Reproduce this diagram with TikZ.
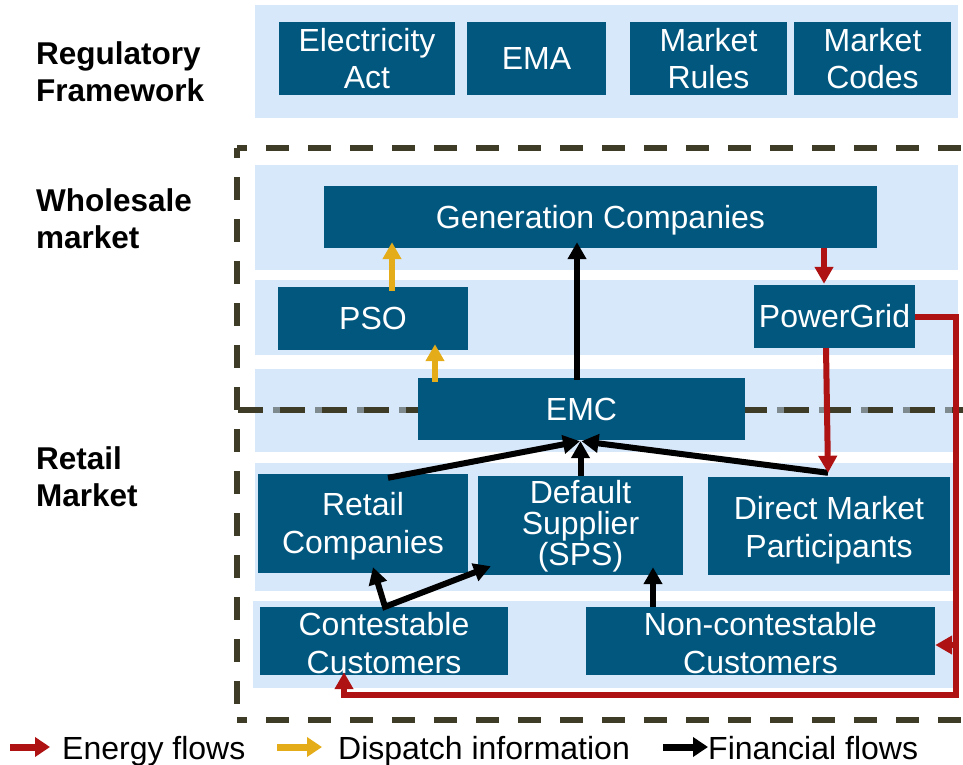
\documentclass[tikz,border=0pt]{standalone}
\usepackage{fontspec}
\setmainfont{Liberation Sans}
\usetikzlibrary{arrows.meta}
\definecolor{boxblue}{HTML}{02577F}
\definecolor{bandblue}{HTML}{D7E8FB}
\definecolor{flowred}{HTML}{AE1212}
\definecolor{flowyellow}{HTML}{E3AC18}
\definecolor{dashdark}{HTML}{3E3C27}
\definecolor{dashgrey}{HTML}{7F8A8E}
\begin{document}
\begin{tikzpicture}[x=1pt,y=-1pt,
  box/.style={fill=boxblue, text=white, align=center, inner sep=0pt,
    font=\fontsize{32}{37}\selectfont},
  boxtext/.style={text=white, align=center, inner sep=0pt,
    font=\fontsize{32}{38}\selectfont},
  lbl/.style={anchor=west, align=left, inner sep=0pt,
    font=\bfseries\fontsize{31.5}{37}\selectfont},
  legtext/.style={anchor=base west, inner sep=0pt, font=\fontsize{32}{37}\selectfont},
  bigdash/.style={dashdark, line width=6pt, dash pattern=on 23pt off 19pt, dash phase=13pt},
  tipA/.style={-{Triangle[length=17pt,width=18pt]}},
  rarr/.style={tipA, draw=flowred, line width=6pt},
  yarr/.style={tipA, draw=flowyellow, line width=6pt},
  barr/.style={tipA, draw=black, line width=6pt},
  legarr/.style={-{Triangle[length=15pt,width=19pt]}, line width=7pt}
]
\useasboundingbox (0,0) rectangle (963,765);

% bands
\fill[bandblue] (255,5) rectangle (958,118);
\fill[bandblue] (255,165) rectangle (958,270);
\fill[bandblue] (255,280) rectangle (958,355);
\fill[bandblue] (255,369) rectangle (958,452);
\fill[bandblue] (255,463) rectangle (953,591);
\fill[bandblue] (253,601) rectangle (953,688);

% dashed frame
\draw[bigdash] (237,148) -- (963,148);
\draw[bigdash] (237,148) -- (237,720);
\draw[bigdash] (237,720) -- (963,720);
\draw[dashgrey, line width=6pt, dash pattern=on 7pt off 35pt, dash phase=7pt] (238,410) -- (963,410);
\draw[dashdark, line width=6pt, dash pattern=on 25pt off 17pt] (238,410) -- (963,410);

% left labels
\node[lbl] (lreg) at (36,72) {Regulatory\\Framework};
\node[lbl] (lwhole) at (36,219) {Wholesale\\market};
\node[lbl] (lretail) at (36,477) {Retail\\Market};

% regulatory boxes
\node[box, minimum width=176pt, minimum height=73pt] (elec) at (367,58.5) {Electricity\\Act};
\node[box, minimum width=139pt, minimum height=73pt] (ema) at (536.5,58.5) {EMA};
\node[box, minimum width=157pt, minimum height=73pt] (rules) at (708.5,58.5) {Market\\Rules};
\node[box, minimum width=157pt, minimum height=73pt] (codes) at (872.5,58.5) {Market\\Codes};

% wholesale
\node[box, minimum width=553pt, minimum height=62pt, text depth=0pt] (gen) at (600.5,217) {Generation Companies};
\node[box, minimum width=190pt, minimum height=63pt] (pso) at (373,318.5) {PSO};
\node[box, minimum width=161pt, minimum height=63pt] (pg) at (834.5,316.5) {PowerGrid};
\node[box, minimum width=327pt, minimum height=62pt] (emc) at (581.5,409) {EMC};

% retail
\node[box, minimum width=210pt, minimum height=99pt] (retail) at (363,523.5) {};
\node[boxtext] at ([yshift=-3pt]retail.center) {Retail\\Companies};
\node[box, minimum width=205pt, minimum height=99pt] (dflt) at (580.5,525.5) {};
\node[boxtext, font=\fontsize{32}{31}\selectfont] at ([yshift=-1pt]dflt.center) {Default\\Supplier\\(SPS)};
\node[box, minimum width=242pt, minimum height=98pt] (dmp) at (829,526) {};
\node[boxtext] at ([yshift=-4pt]dmp.center) {Direct Market\\Participants};
\node[box, minimum width=248pt, minimum height=68pt] (cont) at (384,641) {};
\node[boxtext] at ([yshift=-2pt]cont.center) {Contestable\\Customers};
\node[box, minimum width=349pt, minimum height=68pt] (noncont) at (760.5,641) {};
\node[boxtext] at ([yshift=-2pt]noncont.center) {Non-contestable\\Customers};

% dispatch (yellow)
\draw[yarr] ([xshift=19pt,yshift=-4pt]pso.north) -- ([xshift=19pt,yshift=6pt]pso.north |- gen.south);
\draw[yarr] ([xshift=-146.5pt,yshift=-4pt]emc.north) -- ([xshift=62pt,yshift=6pt]pso.south);

% financial (black)
\draw[barr] ([xshift=-4.5pt,yshift=-2pt]emc.north) -- ([xshift=-23.5pt,yshift=6pt]gen.south);
\draw[barr] ([xshift=25pt,yshift=-4pt]retail.north) -- ([xshift=-1.5pt,yshift=-1pt]emc.south);
\draw[barr] (dflt.north) -- ([xshift=-1pt,yshift=-1pt]emc.south);
\draw[barr] ([xshift=-1pt,yshift=4pt]dmp.north) -- ([xshift=0pt,yshift=-1pt]emc.south);
\draw[{Triangle[length=17pt,width=18pt]}-{Triangle[length=17pt,width=18pt]}, draw=black, line width=6pt]
  ([xshift=10pt,yshift=6pt]retail.south) -- ([xshift=1pt]cont.north) -- ([xshift=13pt,yshift=9pt]dflt.south west);
\draw[barr] ([xshift=-107.5pt]noncont.north) -- ([xshift=72.5pt,yshift=8pt]dflt.south);

% energy (red)
\coordinate (bendR) at (956,695);
\draw[rarr] ([xshift=223.5pt]gen.south) -- ([xshift=-10.5pt,yshift=1pt]pg.north);
\draw[rarr] ([xshift=-8.5pt]pg.south) -- ([xshift=-1pt,yshift=4pt]dmp.north);
\draw[rarr] (pg.east) -| (bendR) -| ([xshift=-40pt,yshift=3pt]cont.south);
\draw[rarr] ([yshift=-4pt]noncont.east -| bendR) -- ([yshift=-4pt]noncont.east);

% legend
\node[legtext] (lgE) at (62,759) {Energy flows};
\node[legtext] (lgD) at (338,759) {Dispatch information};
\node[legtext] (lgF) at (708,759) {Financial flows};
\draw[legarr, draw=flowred] ([xshift=-52pt,yshift=12pt]lgE.base west) -- ([xshift=-12pt,yshift=12pt]lgE.base west);
\draw[legarr, draw=flowyellow] ([xshift=-61pt,yshift=12pt]lgD.base west) -- ([xshift=-16pt,yshift=12pt]lgD.base west);
\draw[legarr, draw=black] ([xshift=-45pt,yshift=12pt]lgF.base west) -- ([xshift=0pt,yshift=12pt]lgF.base west);
\end{tikzpicture}
\end{document}
